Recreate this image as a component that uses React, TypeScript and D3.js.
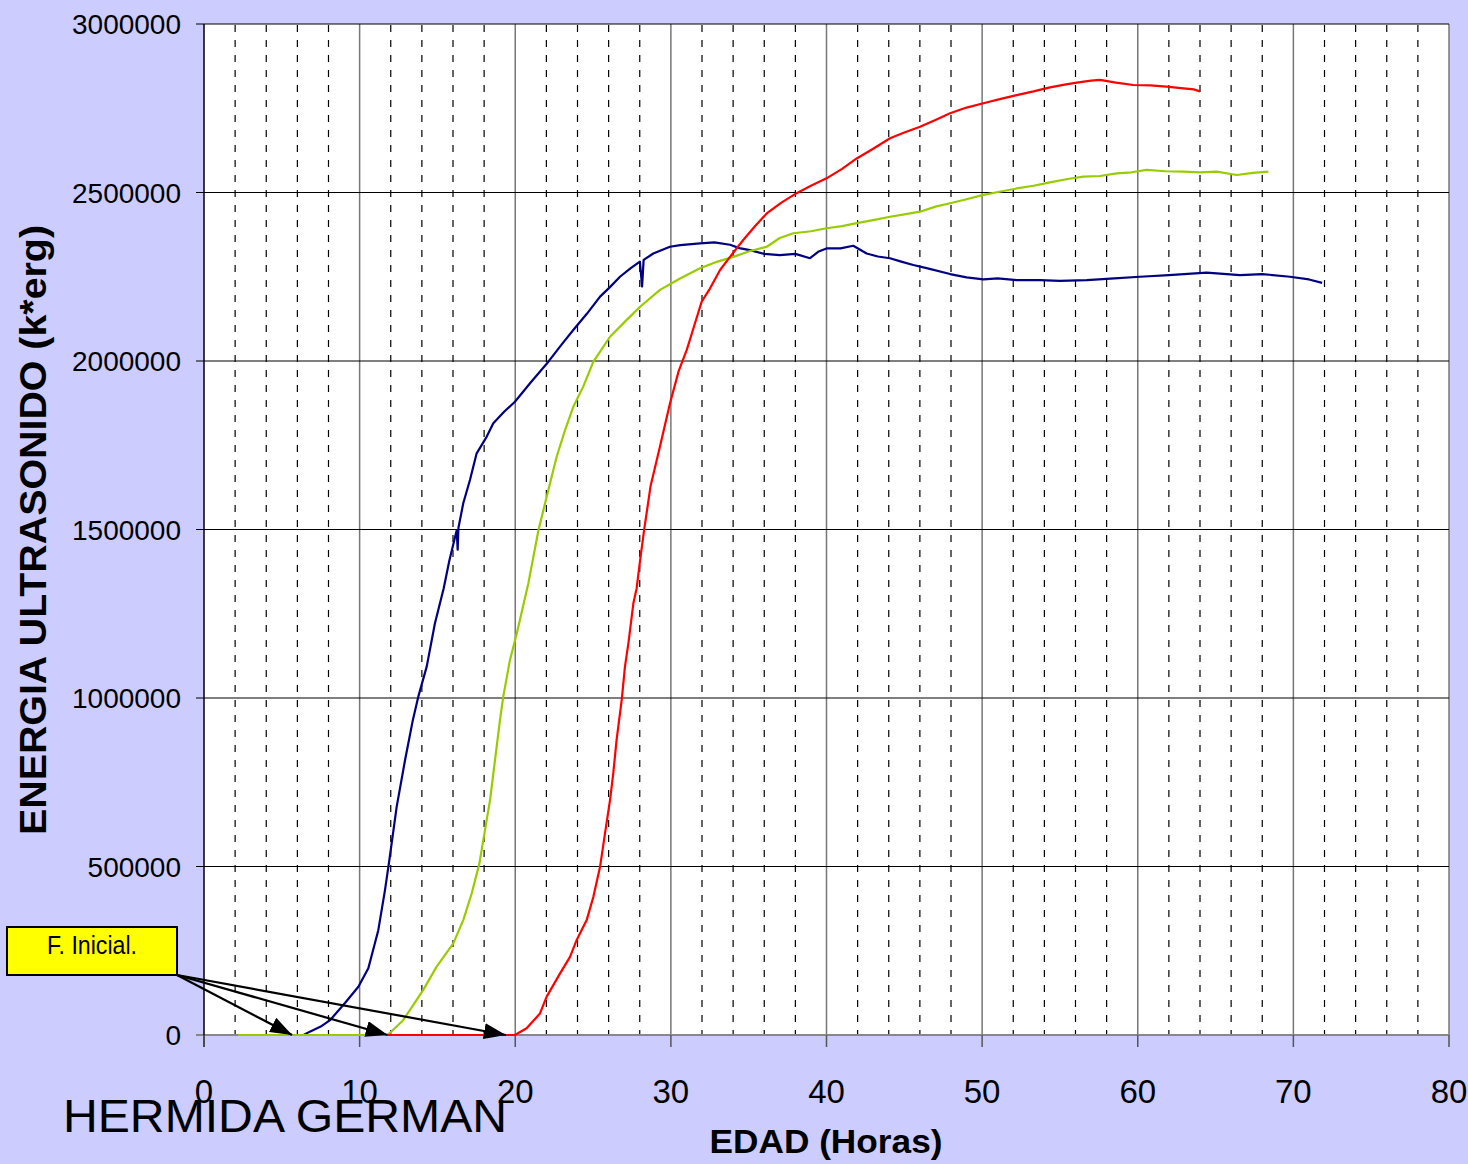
import React from "react";
import * as d3 from "d3";

// ---------- data ----------
const blueHours = [6.4, 6.8, 7.5, 8.1, 9.06, 9.92, 10.56, 11.2, 11.63, 11.91, 12.38, 12.92, 13.4, 13.77, 14.31, 14.84, 15.4, 15.77, 16.24, 16.3, 16.35, 16.66, 17.09, 17.52, 18.16, 18.59, 19.3, 19.98, 20.95, 22.13, 23.0, 23.73, 24.6, 25.45, 26.1, 26.73, 27.4, 28.01, 28.15, 28.25, 28.87, 29.94, 30.6, 31.87, 32.8, 33.8, 34.4, 35.08, 36.0, 37.0, 38.0, 38.94, 39.5, 40.0, 40.9, 41.72, 42.58, 43.3, 44.08, 44.8, 45.58, 46.5, 47.94, 49.0, 50.08, 51.0, 52.22, 53.72, 55.0, 56.72, 58.5, 60.14, 62.0, 64.43, 66.57, 68.0, 69.78, 71.0, 71.85];
const blueValues = [0, 10000, 25000, 44000, 95000, 143000, 198000, 311000, 430000, 519000, 677000, 816000, 930000, 1004000, 1093000, 1222000, 1325000, 1409000, 1498000, 1440000, 1505000, 1578000, 1647000, 1726000, 1775000, 1815000, 1850000, 1879000, 1934000, 1998000, 2050000, 2092000, 2140000, 2191000, 2220000, 2250000, 2275000, 2295000, 2221000, 2300000, 2319000, 2339000, 2344000, 2349000, 2352000, 2345000, 2335000, 2329000, 2318000, 2314000, 2318000, 2305000, 2325000, 2334000, 2334000, 2342000, 2319000, 2310000, 2305000, 2295000, 2285000, 2275000, 2258000, 2248000, 2242000, 2245000, 2240000, 2240000, 2238000, 2240000, 2245000, 2250000, 2255000, 2262000, 2255000, 2258000, 2250000, 2242000, 2232000];

const greenHours = [2.2, 11.8, 12.8, 14.09, 14.95, 16.02, 16.66, 17.2, 17.7, 17.95, 18.38, 18.7, 19.02, 19.23, 19.66, 20.09, 20.84, 21.49, 22.02, 22.66, 23.2, 23.73, 24.37, 25.02, 26.09, 27.16, 28.02, 29.3, 30.59, 31.87, 33.0, 34.01, 35.0, 36.16, 37.0, 37.87, 39.0, 40.0, 41.0, 41.94, 43.0, 44.08, 45.0, 46.01, 47.0, 47.94, 49.0, 50.08, 51.2, 52.22, 53.3, 54.36, 55.5, 56.5, 57.57, 58.65, 59.6, 60.57, 61.8, 62.93, 64.0, 65.07, 66.36, 67.4, 68.39];
const greenValues = [0, 0, 44000, 134000, 203000, 272000, 341000, 420000, 510000, 579000, 697000, 816000, 935000, 1004000, 1113000, 1190000, 1340000, 1498000, 1597000, 1716000, 1795000, 1864000, 1924000, 1998000, 2072000, 2122000, 2161000, 2211000, 2245000, 2275000, 2295000, 2309000, 2325000, 2339000, 2365000, 2379000, 2385000, 2394000, 2400000, 2409000, 2418000, 2428000, 2435000, 2443000, 2458000, 2468000, 2480000, 2493000, 2503000, 2512000, 2520000, 2530000, 2540000, 2547000, 2549000, 2557000, 2560000, 2567000, 2563000, 2562000, 2560000, 2562000, 2552000, 2558000, 2562000];

const redHours = [11.8, 19.98, 20.73, 21.59, 22.02, 22.88, 23.52, 23.95, 24.59, 25.02, 25.45, 25.77, 26.09, 26.3, 26.51, 26.84, 27.05, 27.27, 27.59, 27.8, 28.0, 28.28, 28.7, 29.3, 29.94, 30.5, 31.02, 31.55, 31.98, 32.51, 33.16, 33.8, 34.65, 35.4, 36.16, 37.1, 38.08, 39.0, 40.0, 41.0, 41.94, 43.0, 44.08, 45.0, 46.01, 47.0, 47.94, 49.0, 50.08, 51.2, 52.22, 53.3, 54.36, 55.3, 56.08, 57.0, 57.57, 58.6, 59.71, 60.8, 61.86, 62.93, 63.6, 64.0];
const redValues = [0, 0, 20000, 64000, 114000, 183000, 232000, 282000, 341000, 410000, 499000, 599000, 697000, 777000, 875000, 994000, 1093000, 1162000, 1281000, 1325000, 1400000, 1498000, 1630000, 1746000, 1874000, 1970000, 2033000, 2112000, 2176000, 2215000, 2270000, 2309000, 2359000, 2400000, 2438000, 2470000, 2498000, 2520000, 2542000, 2570000, 2601000, 2630000, 2661000, 2678000, 2695000, 2715000, 2735000, 2752000, 2765000, 2778000, 2789000, 2800000, 2812000, 2820000, 2826000, 2832000, 2834000, 2826000, 2819000, 2818000, 2814000, 2809000, 2806000, 2800000];

const xTickLabels = [0, 10, 20, 30, 40, 50, 60, 70, 80];
const yTickValues = [0, 500000, 1000000, 1500000, 2000000, 2500000, 3000000];
const arrowTargetHours = [5.66, 11.8, 19.4];

const seriesList = [
  { name: "blue", hours: blueHours, values: blueValues, color: "#000080" },
  { name: "green", hours: greenHours, values: greenValues, color: "#99CC00" },
  { name: "red", hours: redHours, values: redValues, color: "#FF0000" },
];

export default function App() {
  const W = 1468, H = 1164;
  const left = 204, right = 1449, top = 24, bottom = 1035;
  const x = d3.scaleLinear().domain([0, 80]).range([left, right]);
  const y = d3.scaleLinear().domain([0, 3000000]).range([bottom, top]);
  const minorX = d3.range(2, 80, 2).filter((v) => v % 10 !== 0);
  const line = d3.line<[number, number]>().x((d) => x(d[0])).y((d) => y(d[1]));
  const font = "Arial, 'Liberation Sans', sans-serif";
  const boxX = 7, boxY = 927, boxW = 170, boxH = 48;
  const arrowStart = [boxX + boxW, boxY + boxH];

  return (
    <div style={{ position: "absolute", left: 0, top: 0 }}>
      <svg width={W} height={H} style={{ display: "block" }}>
        <defs>
          <marker id="ah" markerUnits="userSpaceOnUse" markerWidth={24} markerHeight={16} refX={22} refY={8} orient="auto">
            <path d="M0,0 L22,8 L0,16 Z" fill="#000" />
          </marker>
        </defs>
        <rect x={0} y={0} width={W} height={H} fill="#CCCCFF" />
        <rect x={left} y={top} width={right - left} height={bottom - top} fill="#fff" />
        {/* minor dashed verticals */}
        {minorX.map((v) => (
          <line key={"m" + v} x1={x(v)} x2={x(v)} y1={top} y2={bottom} stroke="#000" strokeWidth={1.2} strokeDasharray="7,8" strokeDashoffset={-1} />
        ))}
        {/* major verticals */}
        {xTickLabels.slice(1).map((v) => (
          <line key={"M" + v} x1={x(v)} x2={x(v)} y1={top} y2={bottom} stroke="#777" strokeWidth={1.5} />
        ))}
        {/* horizontal grid */}
        {yTickValues.map((v) => (
          <line key={"h" + v} x1={left - 8} x2={right} y1={y(v)} y2={y(v)} stroke={v === 0 ? "#888" : "#000"} strokeWidth={v === 0 ? 2 : 1} />
        ))}
        {/* axes */}
        <line x1={left} x2={left} y1={top} y2={bottom + 12} stroke="#000" strokeWidth={1.5} />
        {xTickLabels.map((v) => (
          <line key={"t" + v} x1={x(v)} x2={x(v)} y1={bottom} y2={bottom + 12} stroke="#555" strokeWidth={1.5} />
        ))}
        {/* y tick labels */}
        {yTickValues.map((v) => (
          <text key={"yl" + v} x={181} y={y(v)} dy="0.36em" textAnchor="end" fontFamily={font} fontSize={28} fill="#000">
            {String(v)}
          </text>
        ))}
        {/* x tick labels */}
        {xTickLabels.map((v) => (
          <text key={"xl" + v} x={x(v)} y={1103} textAnchor="middle" fontFamily={font} fontSize={33} fill="#000">
            {String(v)}
          </text>
        ))}
        {/* series */}
        {seriesList.map((s) => (
          <path key={s.name} d={line(s.hours.map((h, i) => [h, s.values[i]] as [number, number])) || ""} fill="none" stroke={s.color} strokeWidth={2.2} strokeLinejoin="round" />
        ))}
        {/* annotation */}
        <rect x={boxX} y={boxY} width={boxW} height={boxH} fill="#FFFF00" stroke="#000" strokeWidth={2} />
        <text x={boxX + boxW / 2} y={boxY + 27} textAnchor="middle" fontFamily={font} fontSize={25} textLength={90} lengthAdjust="spacingAndGlyphs" fill="#000">
          F. Inicial.
        </text>
        {arrowTargetHours.map((h, i) => (
          <line key={"a" + i} x1={arrowStart[0]} y1={arrowStart[1]} x2={x(h)} y2={y(0)} stroke="#000" strokeWidth={2.2} markerEnd="url(#ah)" />
        ))}
        {/* titles */}
        <text transform="translate(46,530) rotate(-90)" textAnchor="middle" fontFamily={font} fontWeight="bold" fontSize={36} textLength={610} lengthAdjust="spacingAndGlyphs" fill="#000">
          ENERGIA ULTRASONIDO (k*erg)
        </text>
        <text x={826} y={1153} textAnchor="middle" fontFamily={font} fontWeight="bold" fontSize={33} textLength={233} lengthAdjust="spacingAndGlyphs" fill="#000">
          EDAD (Horas)
        </text>
        <text x={63} y={1132} fontFamily={font} fontSize={46} textLength={444} lengthAdjust="spacingAndGlyphs" fill="#000">
          HERMIDA GERMAN
        </text>
      </svg>
    </div>
  );
}
